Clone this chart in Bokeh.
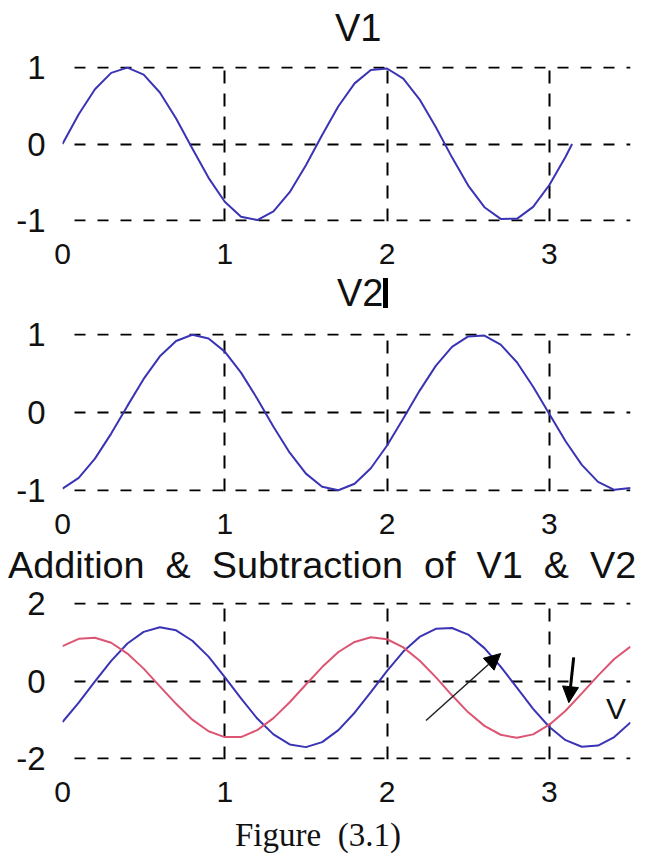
import html
from bokeh.plotting import figure
from bokeh.layouts import column
from bokeh.models import FixedTicker, Label, Arrow, NormalHead, Range1d, Div
from bokeh.embed import file_html
from bokeh.resources import INLINE

# ---- data ----
x_v1 = [0.0, 0.1, 0.2, 0.3, 0.4, 0.5, 0.6, 0.7, 0.8, 0.9, 1.0, 1.1, 1.2, 1.3, 1.4, 1.5,
        1.6, 1.7, 1.8, 1.9, 2.0, 2.1, 2.2, 2.3, 2.4, 2.5, 2.6, 2.7, 2.8, 2.9, 3.0, 3.1, 3.14]
v1 = [0.0, 0.389, 0.717, 0.932, 1.0, 0.909, 0.675, 0.335, -0.058, -0.443, -0.757, -0.952,
      -0.996, -0.883, -0.631, -0.279, 0.117, 0.494, 0.794, 0.968, 0.989, 0.855, 0.585, 0.223,
      -0.175, -0.544, -0.828, -0.981, -0.980, -0.823, -0.537, -0.166, 0.0]

x_full = [0.0, 0.1, 0.2, 0.3, 0.4, 0.5, 0.6, 0.7, 0.8, 0.9, 1.0, 1.1, 1.2, 1.3, 1.4, 1.5,
          1.6, 1.7, 1.8, 1.9, 2.0, 2.1, 2.2, 2.3, 2.4, 2.5, 2.6, 2.7, 2.8, 2.9, 3.0, 3.1,
          3.2, 3.3, 3.4, 3.5]
v2 = [-0.977, -0.839, -0.593, -0.271, 0.085, 0.431, 0.722, 0.919, 0.999, 0.951, 0.782, 0.512,
      0.177, -0.182, -0.516, -0.785, -0.953, -0.999, -0.916, -0.716, -0.424, -0.078, 0.278,
      0.599, 0.843, 0.978, 0.988, 0.872, 0.645, 0.331, -0.020, -0.370, -0.673, -0.892,
      -0.994, -0.969]

sum_blue = [-1.06, -0.56, -0.01, 0.52, 0.97, 1.27, 1.39, 1.31, 1.04, 0.63, 0.10, -0.45, -0.97,
            -1.38, -1.64, -1.71, -1.58, -1.27, -0.82, -0.29, 0.26, 0.76, 1.14, 1.35, 1.37, 1.20,
            0.85, 0.37, -0.17, -0.72, -1.19, -1.53, -1.70, -1.67, -1.45, -1.07]
diff_red = [0.90, 1.09, 1.12, 0.99, 0.71, 0.32, -0.14, -0.59, -1.00, -1.30, -1.45, -1.45, -1.27,
            -0.96, -0.55, -0.09, 0.36, 0.75, 1.01, 1.13, 1.08, 0.87, 0.53, 0.10, -0.37, -0.81,
            -1.16, -1.39, -1.47, -1.38, -1.13, -0.77, -0.32, 0.14, 0.57, 0.89]

x_ticks = [0, 1, 2, 3]
x_grid_ticks = [1, 2, 3]
y_ticks_small = [-1, 0, 1]
y_ticks_big = [-2, 0, 2]

titles = ["V1", "V2", "Addition  &  Subtraction  of  V1  &  V2"]
caption = "Figure  (3.1)"

BLUE = "#3a34b5"
RED = "#dc5674"
FONT = "Liberation Sans"
TXT = "#111111"
W = 638


def span(text, left, top, size, family=FONT):
    lh = round(size * 0.75, 1)
    return ('<span style="position:absolute;left:%dpx;top:%dpx;font-family:\'%s\';'
            'font-size:%spx;line-height:%spx;white-space:pre;color:%s;">%s</span>'
            % (left, top, family, size, lh, TXT, html.escape(text)))


def text_div(height, inner):
    return Div(text='<div style="position:relative;width:%dpx;height:%dpx;">%s</div>'
               % (W, height, inner), width=W, height=height, margin=0)


def make_fig(height, top, yr, yticks):
    p = figure(width=W, height=height, x_range=Range1d(0, 3.5), y_range=Range1d(*yr),
               output_backend="svg", toolbar_location=None,
               min_border_left=62, min_border_right=8,
               min_border_top=top, min_border_bottom=57, margin=0)
    p.outline_line_color = None
    p.background_fill_color = "white"
    p.border_fill_color = "white"

    p.xaxis.ticker = FixedTicker(ticks=x_ticks)
    p.yaxis.ticker = FixedTicker(ticks=yticks)
    p.yaxis.major_label_overrides = {t: str(t) for t in yticks}
    for ax in (p.xaxis[0], p.yaxis[0]):
        ax.axis_line_color = None
        ax.major_tick_line_color = None
        ax.minor_tick_line_color = None
        ax.major_tick_out = 0
        ax.major_tick_in = 0
        ax.minor_tick_out = 0
        ax.major_label_text_font = FONT
        ax.major_label_text_color = TXT
    p.xaxis.major_label_text_font_size = "30px"
    p.xaxis.major_label_standoff = 22
    p.yaxis.major_label_text_font_size = "33px"
    p.yaxis.major_label_standoff = 17

    p.xgrid.ticker = FixedTicker(ticks=x_grid_ticks)
    p.xgrid.grid_line_color = "black"
    p.xgrid.grid_line_width = 2
    p.xgrid.grid_line_dash = "13 10"
    p.ygrid.grid_line_color = "black"
    p.ygrid.grid_line_width = 2
    p.ygrid.grid_line_dash = "11 12"
    p.ygrid.grid_line_dash_offset = 11
    return p


d1 = text_div(46, span(titles[0], 335, 14, 38))

p1 = make_fig(232, 20, (-1.015, 1.015), y_ticks_small)
p1.line(x_v1, v1, line_color=BLUE, line_width=2)

bar = ('<span style="position:absolute;left:383px;top:0px;width:5px;height:30px;'
       'background:#000;"></span>')
d2 = text_div(32, span(titles[1], 337, 1, 38) + bar)

p2 = make_fig(238, 23, (-1.015, 1.015), y_ticks_small)
p2.line(x_full, v2, line_color=BLUE, line_width=2)

d3 = text_div(34, span(titles[2], 8, 3, 37.8))

p3 = make_fig(234, 20, (-2.03, 2.03), y_ticks_big)
p3.line(x_full, sum_blue, line_color=BLUE, line_width=2)
p3.line(x_full, diff_red, line_color=RED, line_width=2)
p3.add_layout(Arrow(end=NormalHead(size=16, fill_color="black", line_color="black"),
                    x_start=2.24, y_start=-1.02, x_end=2.70, y_end=0.71,
                    line_color="#222222", line_width=1.5))
p3.add_layout(Arrow(end=NormalHead(size=16, fill_color="black", line_color="black"),
                    x_start=3.15, y_start=0.61, x_end=3.12, y_end=-0.56,
                    line_color="black", line_width=3))
p3.add_layout(Label(x=3.41, y=-0.71, text="V", text_font=FONT, text_font_size="30px",
                    text_color=TXT, text_align="center", text_baseline="middle"))

d4 = text_div(40, span(caption, 235, 7, 33, "Liberation Serif"))

layout = column(d1, p1, d2, p2, d3, p3, d4, spacing=0)
open("out.html", "w").write(file_html(layout, INLINE))
